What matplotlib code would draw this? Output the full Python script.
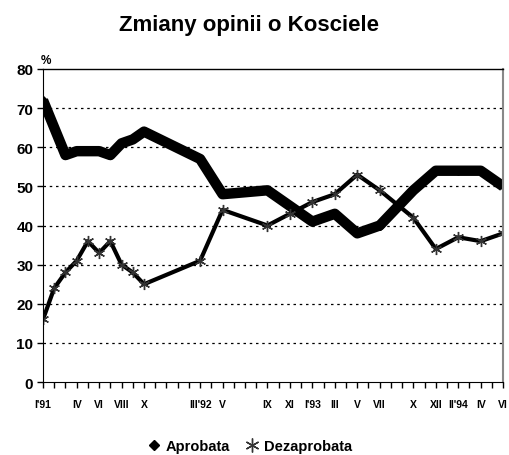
import matplotlib
matplotlib.use("Agg")
import matplotlib.pyplot as plt
from matplotlib.lines import Line2D

# month index: 0 = I'91 ... 41 = VI'94
months = [0, 1, 2, 3, 4, 5, 6, 7, 8, 9, 14, 16, 20, 22, 24, 26, 28, 30, 33, 35, 37, 39, 41]
aprobata = [72, None, 58, 59, 59, 59, 58, 61, 62, 64, 57, 48, 49, 45, 41, 43, 38, 40, 49, 54, 54, 54, 50]
dezaprobata = [16, 24, 28, 31, 36, 33, 36, 30, 28, 25, 31, 44, 40, 43, 46, 48, 53, 49, 42, 34, 37, 36, 38]

tick_pos = [0, 3, 5, 7, 9, 14, 16, 20, 22, 24, 26, 28, 30, 33, 35, 37, 39, 41]
tick_labels = ["I'91", "IV", "VI", "VIII", "X", "III'92", "V", "IX", "XI", "I'93",
               "III", "V", "VII", "X", "XII", "II'94", "IV", "VI"]

plt.rcParams['font.family'] = ['Liberation Sans', 'DejaVu Sans']
plt.rcParams['font.weight'] = 'bold'

fig = plt.figure(figsize=(5.09, 4.56), dpi=100)
ax = fig.add_axes([0.0845, 0.160, 0.904, 0.6865])

ax_x = [m for m, v in zip(months, aprobata) if v is not None]
ax_y = [v for v in aprobata if v is not None]
ax.plot(ax_x, ax_y, color='black', lw=7.5, marker='D', ms=4, solid_joinstyle='round',
        solid_capstyle='butt', zorder=3)
ax.plot(months, dezaprobata, color='black', lw=3, marker=(6, 2, 0), ms=8,
        mec='#333333', mew=1.0, zorder=4)

ax.set_xlim(0, 41)
ax.set_ylim(0, 80)
ax.set_yticks(range(0, 81, 10))
ax.set_xticks(range(0, 42), minor=True)
ax.set_xticks(tick_pos)
ax.set_xticklabels(tick_labels, fontsize=7.5, fontweight='bold')
ax.tick_params(axis='x', which='both', direction='out', length=4, width=1, pad=8)
ax.tick_params(axis='y', direction='out', length=4, width=1, labelsize=11, pad=3)
for lbl in ax.get_yticklabels():
    lbl.set_fontweight('bold')

for y in range(10, 80, 10):
    ax.axhline(y, color='black', lw=0.9, ls=(0, (2, 3)), zorder=1)

ax.spines['left'].set_color('black')
ax.spines['bottom'].set_color('black')
ax.spines['top'].set_color('black')
ax.spines['top'].set_linewidth(1.0)
ax.spines['right'].set_color('#888888')
ax.spines['right'].set_linewidth(1.5)
for s in ax.spines.values():
    s.set_zorder(5)

fig.text(0.49, 0.943, "Zmiany opinii o Kosciele", ha='center', va='center',
         fontsize=16, fontweight='bold')
fig.text(0.081, 0.866, "%", ha='left', va='center', fontsize=8.5, fontweight='bold')

handles = [Line2D([], [], color='black', marker='D', ls='none', ms=5),
           Line2D([], [], color='#333333', marker=(6, 2, 0), ls='none', ms=10, mew=1.0)]
fig.legend(handles, ["Aprobata", "Dezaprobata"], loc='center', bbox_to_anchor=(0.49, 0.02),
           ncol=2, frameon=False, handlelength=1.0, handletextpad=0.3,
           columnspacing=1.0, prop={'weight': 'bold', 'size': 10.5})

fig.savefig("out.png", dpi=100)
